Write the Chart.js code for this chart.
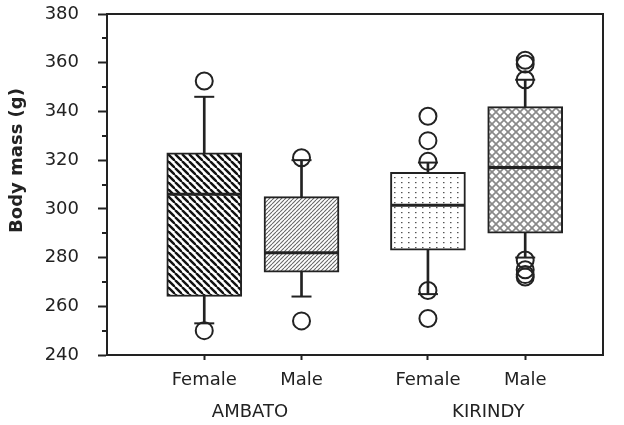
<!DOCTYPE html>
<html>
<head>
<meta charset="utf-8">
<script src="https://cdn.jsdelivr.net/npm/chart.js@4"></script>
<style>
  html, body { margin: 0; padding: 0; background: #fff; }
  #wrap { width: 624px; height: 425px; }
</style>
</head>
<body>
<div id="wrap"><canvas id="chart" width="624" height="425"></canvas></div>
<script>
// data
const groups = ['AMBATO', 'KIRINDY'];
const categories = ['Female', 'Male', 'Female', 'Male'];
const lowerWhisker = [253, 264, 265, 280];
const q1 = [264, 274, 283, 290];
const median = [306, 282, 301.5, 317];
const q3 = [323, 305, 315, 342];
const upperWhisker = [346, 320, 319, 353];
const outliers = [
    [352.5, 250],
    [321, 254],
    [338, 328, 319.5, 266.5, 255],
    [361, 359.5, 353, 279, 275, 273, 272]
];
const yTicks = { min: 240, max: 380, step: 20 };

// layout: where each category sits on the x scale
const slot = [1, 2, 3.3, 4.3];
const groupSlot = [1.47, 3.92];

const ink = '#222';
const font = { family: 'DejaVu Sans', size: 18 };
const ctx = document.getElementById('chart').getContext('2d');

// fill patterns for the boxes
function makePattern(w, h, draw) {
    const c = document.createElement('canvas');
    c.width = w; c.height = h;
    const g = c.getContext('2d');
    g.fillStyle = '#fff';
    g.fillRect(0, 0, w, h);
    draw(g, w, h);
    return ctx.createPattern(c, 'repeat');
}
const patterns = [
    // thick back-diagonal stripes
    makePattern(7, 7, (g, s) => {
        g.strokeStyle = '#111'; g.lineWidth = 2.4;
        for (const o of [-s, 0, s]) { g.beginPath(); g.moveTo(o, 0); g.lineTo(o + s, s); g.stroke(); }
    }),
    // fine forward diagonal
    makePattern(4, 4, (g, s) => {
        g.strokeStyle = '#666'; g.lineWidth = 1.1;
        for (const o of [-s, 0, s]) { g.beginPath(); g.moveTo(o, s); g.lineTo(o + s, 0); g.stroke(); }
    }),
    // dots
    makePattern(7, 5, (g) => {
        g.fillStyle = '#555'; g.fillRect(2, 2, 1.5, 1.2);
    }),
    // diamond lattice
    makePattern(8, 8, (g, s) => {
        g.strokeStyle = '#8a8a8a'; g.lineWidth = 1.7;
        for (const o of [-s, 0, s]) {
            g.beginPath(); g.moveTo(o, 0); g.lineTo(o + s, s); g.stroke();
            g.beginPath(); g.moveTo(o, s); g.lineTo(o + s, 0); g.stroke();
        }
    })
];

const boxData = slot.map((x, i) => ({ x: x, y: [q1[i], q3[i]] }));
const whiskerData = slot.map((x, i) => ({ x: x, y: [lowerWhisker[i], upperWhisker[i]] }));
const medianData = slot.map((x, i) => ({ x: x, y: median[i] }));
const capData = [];
slot.forEach((x, i) => {
    capData.push({ x: x, y: lowerWhisker[i] });
    capData.push({ x: x, y: upperWhisker[i] });
});
const outlierData = [];
slot.forEach((x, i) => outliers[i].forEach(v => outlierData.push({ x: x, y: v })));

// frame, minor ticks and y title
const extras = {
    id: 'extras',
    afterDraw(chart) {
        const c = chart.ctx;
        const a = chart.chartArea;
        const y = chart.scales.y;
        c.save();
        c.strokeStyle = ink;
        c.lineWidth = 2;
        c.strokeRect(a.left, a.top, a.right - a.left, a.bottom - a.top);
        c.beginPath();
        for (let v = yTicks.min + yTicks.step / 2; v < yTicks.max; v += yTicks.step) {
            const py = Math.round(y.getPixelForValue(v));
            c.moveTo(a.left - 5, py);
            c.lineTo(a.left, py);
        }
        c.stroke();
        c.translate(22, 160.5);
        c.rotate(-Math.PI / 2);
        c.fillStyle = ink;
        c.font = 'bold 18px "DejaVu Sans"';
        c.textAlign = 'center';
        c.textBaseline = 'alphabetic';
        c.fillText('Body mass (g)', 0, 0);
        c.restore();
    }
};

new Chart(ctx, {
    type: 'bar',
    data: {
        datasets: [
            {
                type: 'scatter',
                data: outlierData,
                pointStyle: 'circle',
                pointRadius: 8.5,
                pointBorderWidth: 2,
                pointBorderColor: ink,
                pointBackgroundColor: 'rgba(0,0,0,0)',
                order: 0
            },
            {
                type: 'scatter',
                data: medianData,
                pointStyle: 'line',
                pointRadius: 37,
                pointBorderWidth: 3,
                pointBorderColor: ink,
                order: 1
            },
            {
                type: 'scatter',
                data: capData,
                pointStyle: 'line',
                pointRadius: 10,
                pointBorderWidth: 2,
                pointBorderColor: ink,
                order: 1
            },
            {
                data: boxData,
                backgroundColor: patterns,
                borderColor: ink,
                borderWidth: 2,
                borderSkipped: false,
                barThickness: 75,
                grouped: false,
                order: 2
            },
            {
                data: whiskerData,
                backgroundColor: ink,
                borderWidth: 0,
                barThickness: 2,
                grouped: false,
                order: 3
            }
        ]
    },
    options: {
        responsive: false,
        animation: false,
        layout: { autoPadding: false, padding: { top: 14, right: 21, left: 0, bottom: 0 } },
        plugins: {
            legend: { display: false },
            tooltip: { enabled: false }
        },
        scales: {
            x: {
                type: 'linear',
                position: 'bottom',
                weight: 0,
                min: 0,
                max: 5.1,
                offset: false,
                afterBuildTicks: s => { s.ticks = slot.map(v => ({ value: v })); },
                afterFit: s => { s.height = 35; s.paddingLeft = 0; s.paddingRight = 0; },
                ticks: {
                    callback: (v, i) => categories[i],
                    autoSkip: false,
                    maxRotation: 0,
                    font: font,
                    color: ink,
                    padding: 10
                },
                grid: { offset: false, drawOnChartArea: false, tickLength: 5, tickWidth: 2, tickColor: ink },
                border: { color: ink, width: 2 }
            },
            x2: {
                type: 'linear',
                position: 'bottom',
                weight: 1,
                min: 0,
                max: 5.1,
                offset: false,
                afterBuildTicks: s => { s.ticks = groupSlot.map(v => ({ value: v })); },
                afterFit: s => { s.height = 35; s.paddingLeft = 0; s.paddingRight = 0; },
                ticks: {
                    callback: (v, i) => groups[i],
                    autoSkip: false,
                    maxRotation: 0,
                    font: font,
                    color: ink,
                    padding: 12
                },
                grid: { display: false, drawTicks: false },
                border: { display: false }
            },
            y: {
                min: yTicks.min,
                max: yTicks.max,
                afterFit: s => { s.width = 107; s.paddingTop = 0; s.paddingBottom = 0; },
                ticks: { stepSize: yTicks.step, font: font, color: ink, padding: 19 },
                grid: { drawOnChartArea: false, tickLength: 9, tickWidth: 2, tickColor: ink },
                border: { color: ink, width: 2 }
            }
        }
    },
    plugins: [extras]
});
</script>
</body>
</html>
